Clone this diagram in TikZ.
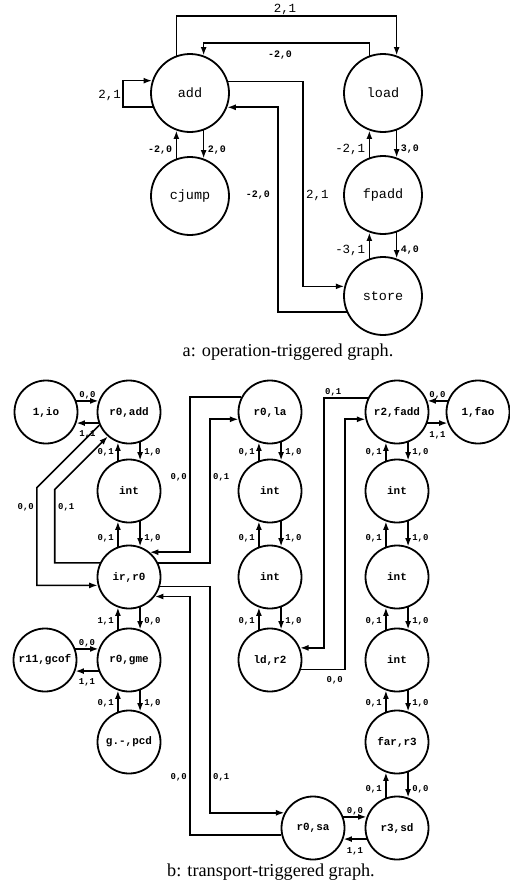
\documentclass[tikz,border=0pt]{standalone}
\usepackage{fontspec}
\setmainfont{Liberation Serif}
\newfontfamily\monofam{Liberation Mono}
\usetikzlibrary{arrows.meta,calc}
\newcommand\vpairdraw[6]{%
  \draw[conn] (#2.110) -- (#1.-110);
  \draw[conn] (#1.-70) -- (#2.70);
  \node[#5,anchor=east] (#1#2L) at ($(#2.110)+(-3,-8)$) {#3};
  \node[#6,anchor=west] (#1#2R) at ($(#2.70)+(3,-8)$) {#4};
}
\begin{document}
\begin{tikzpicture}[x=1bp,y=-1bp,
  bignode/.style={circle,draw,line width=1.8bp,minimum size=78bp,inner sep=0pt,font=\monofam\fontsize{13.5}{14}\selectfont},
  smallnode/.style={circle,draw,line width=1.8bp,minimum size=63bp,inner sep=0pt,font=\monofam\bfseries\fontsize{11}{12}\selectfont},
  conn/.style={line width=1.6bp,-{Latex[length=8.5bp,width=6bp]}},
  rconn/.style={line width=1.6bp,{Latex[length=8.5bp,width=6bp]}-},
  lbla/.style={font=\monofam\bfseries\fontsize{10}{11}\selectfont,inner sep=1bp},
  lblA/.style={font=\monofam\fontsize{12.5}{13}\selectfont,inner sep=1bp},
  lblb/.style={font=\monofam\bfseries\fontsize{9}{10}\selectfont,inner sep=1bp},
  captext/.style={font=\fontsize{18.3}{20}\selectfont,inner sep=0pt}
]
\useasboundingbox (0,0) rectangle (510,890);
% ---------- graph a ----------
\node[bignode] (add) at (190,93) {add};
\node[bignode] (cjump) at (190,196) {cjump};
\node[bignode] (load) at (383,93) {load};
\node[bignode] (fpadd) at (383,195) {fpadd};
\node[bignode] (store) at (383,296) {store};
\coordinate (ytop) at (0,16);
\coordinate (ymid) at (0,43);
\coordinate (xloop) at (123,0);
\coordinate (xout) at (303,0);
\coordinate (xin) at (278,0);
\draw[conn] (add.110) -- (add.110 |- ytop) -| (load.70);
\draw[conn] (load.110) -- (load.110 |- ymid) -| (add.70);
\draw[conn] (add.201) -- (add.201 -| xloop) |- (add.162);
\draw[conn] (add.17) -- (add.17 -| xout) |- (store.166);
\draw[conn] (store.204) -- (store.204 -| xin) |- (add.-21);
\vpairdraw{add}{cjump}{-2,0}{2,0}{lbla}{lbla}
\vpairdraw{load}{fpadd}{-2,1}{3,0}{lblA}{lbla}
\vpairdraw{fpadd}{store}{-3,1}{4,0}{lblA}{lbla}
\node[lblA,anchor=south] (la1) at (285,16) {2,1};
\node[lbla,anchor=north] (la2) at (280,50) {-2,0};
\node[lblA,anchor=east] (la3) at (122,95) {2,1};
\node[lblA,anchor=west] (la4) at (305,195) {2,1};
\node[lbla,anchor=east] (la5) at (271,195) {-2,0};
\node[captext] (capa) at (288,352) {a: operation-triggered graph.};
% ---------- graph b ----------
\node[smallnode] (io) at (46,412) {1,io};
\node[smallnode] (radd) at (129,412) {r0,add};
\node[smallnode] (int1) at (129,491) {int};
\node[smallnode] (irr) at (129,577) {ir,r0};
\node[smallnode] (gme) at (129,660) {r0,gme};
\node[smallnode] (gcof) at (45,660) {r11,gcof};
\node[smallnode] (pcd) at (129,742) {g.-,pcd};
\node[smallnode] (rla) at (270,412) {r0,la};
\node[smallnode] (int2) at (270,491) {int};
\node[smallnode] (int3) at (270,577) {int};
\node[smallnode] (ldr) at (270,660) {ld,r2};
\node[smallnode] (rfadd) at (397,412) {r2,fadd};
\node[smallnode] (fao) at (478,412) {1,fao};
\node[smallnode] (int4) at (397,491) {int};
\node[smallnode] (int5) at (397,577) {int};
\node[smallnode] (int6) at (397,660) {int};
\node[smallnode] (far) at (397,742) {far,r3};
\node[smallnode] (rsd) at (397,828) {r3,sd};
\node[smallnode] (rsa) at (313,828) {r0,sa};
% vertical pairs
\vpairdraw{radd}{int1}{0,1}{1,0}{lblb}{lblb}
\vpairdraw{int1}{irr}{0,1}{1,0}{lblb}{lblb}
\vpairdraw{irr}{gme}{1,1}{0,0}{lblb}{lblb}
\vpairdraw{gme}{pcd}{0,1}{1,0}{lblb}{lblb}
\vpairdraw{rla}{int2}{0,1}{1,0}{lblb}{lblb}
\vpairdraw{int2}{int3}{0,1}{1,0}{lblb}{lblb}
\vpairdraw{int3}{ldr}{0,1}{1,0}{lblb}{lblb}
\vpairdraw{rfadd}{int4}{0,1}{1,0}{lblb}{lblb}
\vpairdraw{int4}{int5}{0,1}{1,0}{lblb}{lblb}
\vpairdraw{int5}{int6}{0,1}{1,0}{lblb}{lblb}
\vpairdraw{int6}{far}{0,1}{1,0}{lblb}{lblb}
\vpairdraw{far}{rsd}{0,1}{0,0}{lblb}{lblb}
% horizontal pairs
\draw[conn] (io.20) -- (radd.160);
\draw[conn] (radd.200) -- (io.-20);
\node[lblb,anchor=south] (hio1) at ($(io.20)!0.5!(radd.160)+(0,-1)$) {0,0};
\node[lblb,anchor=north] (hio2) at ($(io.-20)!0.5!(radd.200)+(0,6)$) {1,1};
\draw[conn] (gcof.20) -- (gme.160);
\draw[conn] (gme.200) -- (gcof.-20);
\node[lblb,anchor=south] (hgc1) at ($(gcof.20)!0.5!(gme.160)+(0,-1)$) {0,0};
\node[lblb,anchor=north] (hgc2) at ($(gcof.-20)!0.5!(gme.200)+(0,6)$) {1,1};
\draw[conn] (fao.160) -- (rfadd.20);
\draw[conn] (rfadd.-20) -- (fao.200);
\node[lblb,anchor=south] (hfa1) at ($(rfadd.20)!0.5!(fao.160)+(0,-1)$) {0,0};
\node[lblb,anchor=north] (hfa2) at ($(rfadd.-20)!0.5!(fao.200)+(0,7)$) {1,1};
\draw[conn] (rsa.20) -- (rsd.160);
\draw[conn] (rsd.200) -- (rsa.-20);
\node[lblb,anchor=south] (hsa1) at ($(rsa.20)!0.5!(rsd.160)+(0,-1)$) {0,0};
\node[lblb,anchor=north] (hsa2) at ($(rsa.-20)!0.5!(rsd.200)+(0,7)$) {1,1};
% long routes
\coordinate (x190) at (190,0);
\coordinate (x210) at (210,0);
\coordinate (x324) at (324,0);
\coordinate (x345) at (345,0);
\draw[conn] (radd.204) -- ++(-62.5,62.5) |- (irr.195);
\draw[rconn] (radd.229) -- ++(-53,53) |- (irr.154);
\draw[conn] (rla.152) -- (rla.152 -| x190) |- (irr.50);
\draw[conn] (irr.26) -- (irr.26 -| x210) |- (rla.193);
\draw[conn] (irr.-17) -- (irr.-17 -| x210) |- (rsa.152);
\draw[conn] (rsa.193) -- (rsa.193 -| x190) |- (irr.-37);
\draw[conn] (rfadd.154) -- (rfadd.154 -| x324) |- (ldr.22);
\draw[conn] (ldr.-17) -- (ldr.-17 -| x345) |- (rfadd.193);
\node[lblb,anchor=east] (ld1) at (35,507) {0,0};
\node[lblb,anchor=west] (ld2) at (57,507) {0,1};
\node[lblb,anchor=east] (ll1) at (188,477) {0,0};
\node[lblb,anchor=west] (ll2) at (212,477) {0,1};
\node[lblb,anchor=east] (ll3) at (188,777) {0,0};
\node[lblb,anchor=west] (ll4) at (212,777) {0,1};
\node[lblb,anchor=south west] (ll5) at (324,397) {0,1};
\node[lblb,anchor=north east] (ll6) at (344,675) {0,0};
\node[captext] (capb) at (271,872) {b: transport-triggered graph.};
\end{tikzpicture}
\end{document}
